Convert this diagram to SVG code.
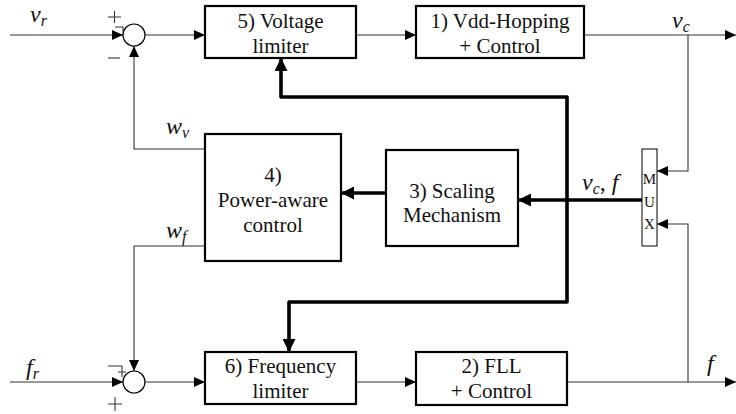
<svg xmlns="http://www.w3.org/2000/svg" width="736" height="414" viewBox="0 0 736 414">
<style>
.box{fill:#fff;stroke:#000;stroke-width:2.2}
.mux{fill:#fff;stroke:#000;stroke-width:1}
.sum{fill:#fff;stroke:#000;stroke-width:1.2}
.thin{fill:none;stroke:#333;stroke-width:1.1}
.thick{fill:none;stroke:#000;stroke-width:3.6;stroke-linejoin:round}
text{font-family:"Liberation Serif","Times New Roman","DejaVu Serif",serif;fill:#111}
.t{font-size:21px;text-anchor:middle}
.m{font-size:15px;text-anchor:middle}
.i{font-style:italic;font-size:24px}
.s{font-size:16px}
</style>
<defs>
<marker id="a" markerUnits="userSpaceOnUse" markerWidth="12" markerHeight="10" refX="11" refY="5" orient="auto">
<path d="M0,0 L11,5 L0,10 Z" fill="#000"/>
</marker>
<marker id="A" markerUnits="userSpaceOnUse" markerWidth="14" markerHeight="13" refX="13" refY="6.5" orient="auto">
<path d="M0,0 L13,6.5 L0,13 Z" fill="#000"/>
</marker>
</defs>

<g id="connectors">
<path class="thin" d="M10,35 H123" marker-end="url(#a)"/>
<path class="thin" d="M145,35 H205" marker-end="url(#a)"/>
<path class="thin" d="M356,35 H416" marker-end="url(#a)"/>
<path class="thin" d="M584,35 H736" marker-end="url(#a)"/>
<path class="thin" d="M688,35 V171 H657" marker-end="url(#a)"/>
<path class="thin" d="M688,382 V224 H657" marker-end="url(#a)"/>
<path class="thin" d="M567,382 H736" marker-end="url(#a)"/>
<path class="thin" d="M356,382 H416" marker-end="url(#a)"/>
<path class="thin" d="M145,382 H205" marker-end="url(#a)"/>
<path class="thin" d="M10,382 H123" marker-end="url(#a)"/>
<path class="thin" d="M210,149 H134 V46" marker-end="url(#a)"/>
<path class="thin" d="M205,246 H134 V371" marker-end="url(#a)"/>
<path class="thick" d="M642,200 H518" marker-end="url(#A)"/>
<path class="thick" d="M386,193 H341" marker-end="url(#A)"/>
<path class="thick" d="M567,200 V97 H281 V58" marker-end="url(#A)"/>
<path class="thick" d="M567,200 V302 H289 V352" marker-end="url(#A)"/>
</g>

<g id="sum-v">
<circle class="sum" cx="134" cy="35" r="11"/>
<path class="thin" d="M108,17 H121 M114.5,11 V23 M115,27 H123 V32"/>
<path class="thin" d="M108,58 H120"/>
</g>
<g id="sum-f">
<circle class="sum" cx="134" cy="382" r="11"/>
<path class="thin" d="M108,366 H122 V377 M118,372 H126"/>
<path class="thin" d="M108,404 H122 M115,397 V411"/>
</g>

<g id="n5">
<rect class="box" x="205" y="6" width="151" height="52"/>
<text class="t" x="280.5" y="28">5) Voltage</text>
<text class="t" x="280.5" y="53">limiter</text>
</g>
<g id="n1">
<rect class="box" x="416" y="6" width="168" height="52"/>
<text class="t" x="500" y="28">1) Vdd-Hopping</text>
<text class="t" x="500" y="53">+ Control</text>
</g>
<g id="n4">
<rect class="box" x="205" y="134" width="136" height="127"/>
<text class="t" x="273" y="182">4)</text>
<text class="t" x="273" y="207">Power-aware</text>
<text class="t" x="273" y="232">control</text>
</g>
<g id="n3">
<rect class="box" x="386" y="150" width="132" height="96"/>
<text class="t" x="452" y="198">3) Scaling</text>
<text class="t" x="452" y="222">Mechanism</text>
</g>
<g id="mux">
<rect class="mux" x="642" y="149" width="15" height="97"/>
<text class="m" x="649.5" y="184">M</text>
<text class="m" x="649.5" y="207">U</text>
<text class="m" x="649.5" y="229">X</text>
</g>
<g id="n6">
<rect class="box" x="205" y="352" width="151" height="52"/>
<text class="t" x="280.5" y="373">6) Frequency</text>
<text class="t" x="280.5" y="398">limiter</text>
</g>
<g id="n2">
<rect class="box" x="416" y="352" width="151" height="53"/>
<text class="t" x="491.5" y="373">2) FLL</text>
<text class="t" x="491.5" y="398">+ Control</text>
</g>

<g id="labels">
<text class="i" x="30" y="22">v<tspan class="s" dy="4">r</tspan></text>
<text class="i" x="672" y="28">v<tspan class="s" dy="4">c</tspan></text>
<text class="i" x="166" y="134">w<tspan class="s" dy="4">v</tspan></text>
<text class="i" x="166" y="238">w<tspan class="s" dy="4">f</tspan></text>
<text class="i" x="26" y="375">f<tspan class="s" dy="4">r</tspan></text>
<text class="i" x="707" y="371">f</text>
<text class="i" x="582" y="190">v<tspan class="s" dy="4">c</tspan><tspan dy="-4" font-style="normal">, </tspan>f</text>
</g>
</svg>
